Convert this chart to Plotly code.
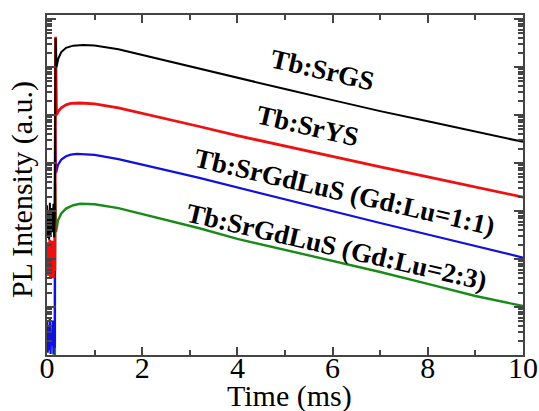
import plotly.graph_objects as go

# Time axis (ms) sample points
t_noise = [0.0, 0.015, 0.03, 0.045, 0.06, 0.075, 0.09, 0.105, 0.12, 0.135, 0.15, 0.165]

# log10 of PL intensity (a.u.), curves are offset for display
black_t = t_noise + [0.18, 0.20, 0.24, 0.30, 0.40, 0.55, 0.76, 1.0, 1.5, 2.0, 2.5, 3.2,
                     4, 5, 6, 7, 8, 9, 10]
black_log = [3.12, 2.44, 3.02, 2.40, 3.17, 2.50, 2.92, 3.06, 2.56, 3.15, 2.45, 3.00,
             6.60, 6.00, 6.18, 6.31, 6.40, 6.445, 6.46, 6.45, 6.37, 6.25, 6.13, 5.97,
             5.78, 5.54, 5.31, 5.08, 4.87, 4.65, 4.44]

red_t = t_noise + [0.18, 0.20, 0.24, 0.30, 0.40, 0.50, 0.69, 1.0, 1.5, 2.0, 2.5, 3.2,
                   4, 5, 6, 7, 8, 9, 10]
red_log = [2.35, 1.65, 2.20, 1.70, 2.40, 1.62, 2.10, 1.80, 2.38, 1.60, 2.25, 1.75,
           6.63, 5.00, 5.08, 5.15, 5.21, 5.24, 5.25, 5.23, 5.15, 5.04, 4.92, 4.76,
           4.57, 4.35, 4.13, 3.92, 3.71, 3.50, 3.29]

blue_t = t_noise + [0.17, 0.19, 0.23, 0.30, 0.40, 0.50, 0.63, 1.0, 1.5, 2.0, 2.5, 3.2,
                    4, 5, 6, 7, 8, 9, 10]
blue_log = [0.70, 0.05, 0.60, 0.10, 0.77, 0.02, 0.50, 0.20, 0.72, 0.01, 0.65, 0.15,
            4.73, 3.79, 3.96, 4.07, 4.14, 4.175, 4.19, 4.17, 4.08, 3.96, 3.85, 3.69,
            3.49, 3.25, 3.00, 2.75, 2.51, 2.27, 2.03]

green_t = [0.0, 0.165, 0.17, 0.19, 0.23, 0.30, 0.40, 0.55, 0.70, 1.0, 1.5, 2.0, 2.5, 3.2,
           4, 5, 6, 7, 8, 9, 10]
green_log = [-0.6, -0.6, 3.58, 2.56, 2.80, 2.95, 3.05, 3.12, 3.15, 3.14, 3.06, 2.94,
             2.82, 2.64, 2.42, 2.19, 1.96, 1.73, 1.48, 1.23, 1.02]

series = [
    ("Tb:SrGdLuS (Gd:Lu=2:3)", green_t, green_log, "#1a8a1a", 2.4),
    ("Tb:SrGdLuS (Gd:Lu=1:1)", blue_t, blue_log, "#1010e0", 2.2),
    ("Tb:SrYS", red_t, red_log, "#ee1111", 2.8),
    ("Tb:SrGS", black_t, black_log, "#000000", 2.0),
]

labels = ["Tb:SrGS", "Tb:SrYS", "Tb:SrGdLuS (Gd:Lu=1:1)", "Tb:SrGdLuS (Gd:Lu=2:3)"]
label_pos = [(0.578, 0.838), (0.548, 0.674), (0.624, 0.479), (0.609, 0.318)]

fig = go.Figure()
for name, tt, ll, col, w in series:
    fig.add_trace(go.Scatter(x=tt, y=[10 ** v for v in ll], mode="lines", name=name,
                             line=dict(color=col, width=w), showlegend=False))

serif = "Liberation Serif"
for txt, (px, py) in zip(labels, label_pos):
    fig.add_annotation(x=px, y=py, xref="paper", yref="paper", text="<b>%s</b>" % txt,
                       showarrow=False, textangle=13, xanchor="center", yanchor="middle",
                       font=dict(family=serif, size=27, color="black"))

fig.add_annotation(x=-0.0525, y=0.485, xref="paper", yref="paper", text="PL Intensity (a.u.)",
                   showarrow=False, textangle=-90, xanchor="center", yanchor="middle",
                   font=dict(family=serif, size=30, color="black"))
fig.add_annotation(x=0.51, y=-0.122, xref="paper", yref="paper", text="Time (ms)",
                   showarrow=False, xanchor="center", yanchor="middle",
                   font=dict(family=serif, size=30, color="black"))

axcol = "#444444"
fig.update_xaxes(range=[0, 10], dtick=2, tick0=0, ticks="inside", ticklen=8, tickwidth=1.5,
                 tickcolor=axcol, showline=True, linecolor=axcol, linewidth=1.5, mirror="ticks",
                 showgrid=False, zeroline=False, automargin=False, ticklabelstandoff=-15,
                 tickfont=dict(family=serif, size=30, color="black"),
                 minor=dict(dtick=1, ticks="inside", ticklen=5, tickcolor=axcol, showgrid=False))
fig.update_yaxes(type="log", range=[0, 7.083], dtick=1, ticks="inside", ticklen=9, tickwidth=1.5,
                 tickcolor=axcol, showline=True, linecolor=axcol, linewidth=1.5, mirror="ticks",
                 showgrid=False, zeroline=False, showticklabels=False, automargin=False,
                 minor=dict(ticks="inside", ticklen=5, tickcolor=axcol, showgrid=False))

fig.update_layout(width=539, height=411, margin=dict(l=47, r=16, t=15, b=56),
                  plot_bgcolor="white", paper_bgcolor="white")

fig.write_html("out.html")
